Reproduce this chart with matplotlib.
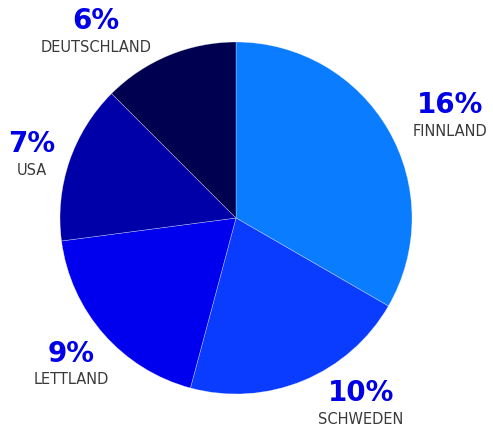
import matplotlib
matplotlib.use("Agg")
import matplotlib.pyplot as plt

categories = ["FINNLAND", "SCHWEDEN", "LETTLAND", "USA", "DEUTSCHLAND"]
values = [16, 10, 9, 7, 6]
colors = ["#0A7CFF", "#0A3CFF", "#0000EE", "#0000A8", "#000050"]

W, H = 493, 425
fig = plt.figure(figsize=(W / 100, H / 100), dpi=100)
ax = fig.add_axes([0, 0, 1, 1])
ax.set_xlim(0, W)
ax.set_ylim(0, H)
ax.set_aspect("equal")
ax.axis("off")

ax.pie(values, colors=colors, startangle=90, counterclock=False,
       center=(236, H - 218), radius=176,
       wedgeprops=dict(edgecolor=(1, 1, 1, 0.5), linewidth=0.4))
ax.set_xlim(0, W)
ax.set_ylim(0, H)

label_pos = [(450, 105), (361, 393), (71, 354), (32, 144), (96, 21)]
for (x, y), cat, v in zip(label_pos, categories, values):
    ax.text(x, H - y, f"{v}%", ha="center", va="center", fontsize=20,
            fontweight="bold", color="#0000E6", family="DejaVu Sans")
    ax.text(x, H - y - 26, cat, ha="center", va="center", fontsize=10.5,
            color="#3a3a3a", family="DejaVu Sans")

fig.savefig("out.png", dpi=100)
